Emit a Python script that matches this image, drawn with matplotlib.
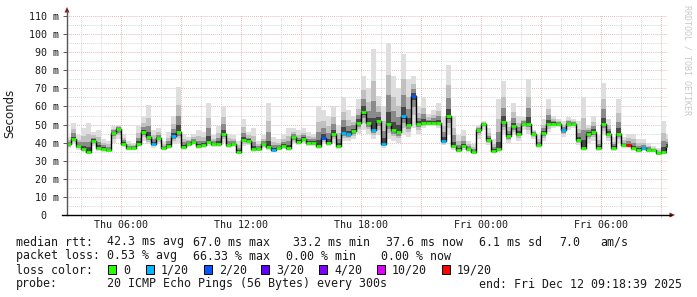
import pandas as pd
import matplotlib
matplotlib.use("Agg")
import matplotlib.pyplot as plt
import matplotlib.dates as mdates
from matplotlib.patches import Rectangle, Polygon
from matplotlib.lines import Line2D

W, H = 697, 297

# median rtt per 15 min step (ms)
median_ms = [39, 42, 38, 36.5, 35, 41, 37, 36.5, 36, 45.5,
             47.5, 39.5, 37, 37, 39.5, 46, 43, 39.5, 42.5, 37,
             38, 43.5, 46, 37.5, 39.5, 40.5, 38, 38.5, 40.5, 39,
             39.5, 45, 38.5, 39, 35, 41.5, 41, 36.5, 36.5, 39,
             37.5, 36, 37, 38, 37, 43, 40.5, 42, 40, 40,
             38, 42.5, 40, 45, 38, 45.5, 44.5, 46.5, 51, 57,
             51, 47, 52, 39.5, 50.5, 47, 46, 54.5, 50, 66,
             50.5, 51, 51, 51, 51, 41, 54.5, 38, 36, 38,
             36.5, 35, 47, 50.5, 41.5, 35.5, 36.5, 51.5, 43.5, 49,
             45, 50.5, 50.5, 45, 38.5, 45.5, 50.5, 50.5, 50.5, 47,
             50.5, 50.5, 41.5, 37, 45, 46, 37, 50.5, 45, 37,
             45, 38.5, 38.5, 37, 36, 37, 36, 36, 34, 35,
             38]

# top of the smoke (slowest ping) per step
smoke_hi_ms = [43, 51, 44, 48, 51, 46, 47, 42, 41, 49,
               50, 45, 41, 40, 49, 54, 61, 47, 48, 41,
               46, 55, 71, 45, 43, 45, 47, 46, 62, 44,
               49, 60, 45, 44, 41, 53, 46, 48, 41, 44,
               62, 43, 42, 45, 48, 48, 47, 48, 46, 45,
               60, 58, 55, 60, 50, 65, 58, 55, 64, 77,
               70, 92, 66, 60, 95, 77, 70, 89, 75, 77,
               60, 65, 56, 58, 62, 55, 83, 55, 44, 47,
               41, 39, 50, 52, 48, 42, 64, 74, 52, 62,
               55, 54, 75, 47, 44, 53, 64, 55, 53, 52,
               54, 53, 52, 65, 50, 55, 44, 73, 53, 43,
               64, 43, 45, 45, 42, 42, 40, 38, 37, 52,
               45]

# bottom of the smoke (fastest ping) per step
smoke_lo_ms = [37, 39, 36, 35, 34, 38, 35.5, 35, 35, 40,
               42, 37.5, 36, 36, 37.5, 41, 39, 37, 39, 36,
               36.5, 39, 40, 36, 37.5, 38.5, 36.5, 37, 38, 37.5,
               37.5, 40, 37, 37.5, 34, 38, 38.5, 35, 35.5, 37,
               36, 35, 36, 36.5, 35.5, 39, 38.5, 39.5, 38, 38,
               36.5, 39, 38, 40, 36.5, 41, 41, 42, 45, 47,
               45, 42, 44, 37, 42, 41, 40, 44, 43, 48,
               45, 48, 49, 49, 48, 38.5, 44, 36, 34.5, 36,
               35, 34, 42, 47, 38.5, 34.5, 35, 44, 40, 44,
               41, 47, 45, 42, 37, 41, 46, 48, 48.5, 43,
               47, 48, 38.5, 35.5, 40, 41, 35.5, 44, 41, 35.5,
               40, 37, 37, 35.5, 34.5, 35.5, 35, 35, 33, 34,
               36]

# steps with lost pings (step index -> pings lost out of 20)
lost_pings = {17: 1, 21: 1, 41: 1, 51: 2, 55: 1, 56: 1, 61: 1, 63: 1,
              67: 1, 69: 2, 75: 1, 99: 1, 112: 19, 115: 1}

loss_levels = [0, 1, 2, 3, 4, 10, 19]
loss_labels = ["0", "1/20", "2/20", "3/20", "4/20", "10/20", "19/20"]
loss_colors = ["#26ff00", "#00b8ff", "#0059ff", "#5e00ff", "#7e00ff", "#dd00ff", "#ff0000"]

y_ticks = [0, 10, 20, 30, 40, 50, 60, 70, 80, 90, 100, 110]
y_labels = ["0  "] + [f"{v} m" for v in y_ticks[1:]]

stats_rows = [
    [(16, "median rtt:"), (107, "42.3 ms avg"), (193, "67.0 ms max"), (293, "33.2 ms min"),
     (386, "37.6 ms now"), (479, "6.1 ms sd"), (559, "7.0"), (600, "am/s")],
    [(16, "packet loss:"), (107, "0.53 % avg"), (193, "66.33 % max"), (286, "0.00 % min"),
     (381, "0.00 % now")],
]
loss_box_x = [108, 146, 204, 261, 319, 377, 442]
probe_text = "20 ICMP Echo Pings (56 Bytes) every 300s"
end_text = "end: Fri Dec 12 09:18:39 2025"

start = "2025-12-11 03:17"
t_start = pd.Timestamp("2025-12-11 03:18:39")
t_end = pd.Timestamp("2025-12-12 09:18:39")

MONO = "DejaVu Sans Mono"
TXT = "#1a1a1a"


def fx(x):
    return x / W


def fy(y):
    return 1 - y / H


def loss_color(n):
    c = loss_colors[0]
    for lvl, col in zip(loss_levels, loss_colors):
        if n >= lvl:
            c = col
    return c


n = len(median_ms)
edges = pd.date_range(start, periods=n + 1, freq="15min")
med = median_ms + [median_ms[-1]]
hi = smoke_hi_ms + [smoke_hi_ms[-1]]
lo = smoke_lo_ms + [smoke_lo_ms[-1]]

fig = plt.figure(figsize=(W / 100, H / 100), dpi=100)
fig.patch.set_facecolor("white")
ax = fig.add_axes([fx(67), 1 - 215 / H, 600 / W, 200 / H])
ax.set_xlim(t_start, t_end)
ax.set_ylim(0, 200 / 1.809)
for s in ax.spines.values():
    s.set_visible(False)

# grid
for v in range(5, 111, 5):
    major = v % 10 == 0
    ax.axhline(v, color="#e6a8a8" if major else "#cfcfcf", lw=0.7,
               ls=(0, (0.8, 1.2)), zorder=0)
for h in pd.date_range("2025-12-11 04:00", "2025-12-12 09:00", freq="h"):
    major = h.hour % 3 == 0
    ax.axvline(h, color="#e6a8a8" if major else "#cfcfcf", lw=0.7,
               ls=(0, (0.8, 1.2)), zorder=0)

# smoke
for frac, col in zip([1.0, 0.6, 0.35, 0.15], ["#dedede", "#c0c0c0", "#8a8a8a", "#474747"]):
    lo_b = [m - frac * (m - l) for m, l in zip(med, lo)]
    hi_b = [m + frac * (h - m) for m, h in zip(med, hi)]
    ax.fill_between(edges, lo_b, hi_b, step="post", color=col, lw=0, zorder=1)

# median line
ax.step(edges, med, where="post", color="black", lw=1.0, zorder=2)
cols = [loss_color(lost_pings.get(i, 0)) for i in range(n)]
ax.hlines(median_ms, edges[:-1], edges[1:], colors=cols, lw=2.0, zorder=3)

# ticks
ax.set_yticks(y_ticks)
ax.set_yticklabels(y_labels, family=MONO, fontsize=7.2, color=TXT)
ax.xaxis.set_major_locator(mdates.HourLocator(byhour=[0, 6, 12, 18]))
ax.xaxis.set_major_formatter(mdates.DateFormatter("%a %H:%M"))
ax.xaxis.set_minor_locator(mdates.HourLocator())
for lab in ax.get_xticklabels():
    lab.set_family(MONO)
ax.tick_params(axis="x", which="major", labelsize=7.2, labelcolor=TXT, length=2,
               width=0.7, color="#e6a8a8", pad=1.5)
ax.tick_params(axis="x", which="minor", length=2, width=0.7, color="#cfcfcf")
ax.tick_params(axis="y", length=3, width=0.7, color="#555555", pad=3)

fig.text(fx(10), fy(113), "Seconds", rotation=90, family="DejaVu Sans", fontsize=8.5,
         color=TXT, ha="center", va="center")

# axis lines and arrows
fig.add_artist(Line2D([fx(67), fx(67)], [fy(215), fy(11)], color="#555555", lw=1))
fig.add_artist(Line2D([fx(62), fx(671)], [fy(215), fy(215)], color="black", lw=1))
fig.add_artist(Polygon([(fx(67), fy(7)), (fx(64.5), fy(12.5)), (fx(69.5), fy(12.5))],
                       closed=True, color="#8b1a1a", lw=0))
fig.add_artist(Polygon([(fx(675), fy(215)), (fx(669.5), fy(212.5)), (fx(669.5), fy(217.5))],
                       closed=True, color="#8b1a1a", lw=0))

# watermark
fig.text(fx(687.5), fy(60), "RRDTOOL / TOBI OETIKER", rotation=270, family=MONO,
         fontsize=6, color="#c8c8c8", ha="center", va="center")

# legend
baselines = [245.5, 259.5, 273.5, 287.5]
for row, base in zip(stats_rows, baselines):
    for x, s in row:
        fig.text(fx(x), fy(base), s, family=MONO, fontsize=8.4, color=TXT, va="baseline")

fig.text(fx(16), fy(baselines[2]), "loss color:", family=MONO, fontsize=8.4, color=TXT,
         va="baseline")
for x, lab, col in zip(loss_box_x, loss_labels, loss_colors):
    fig.add_artist(Rectangle((fx(x), fy(274)), 8 / W, 9 / H, facecolor=col,
                             edgecolor="black", lw=0.7))
    fig.text(fx(x + 15), fy(baselines[2]), lab, family=MONO, fontsize=8.4, color=TXT,
             va="baseline")

fig.text(fx(16), fy(baselines[3]), "probe:", family=MONO, fontsize=8.4, color=TXT, va="baseline")
fig.text(fx(107), fy(baselines[3]), probe_text, family=MONO, fontsize=8.4, color=TXT,
         va="baseline")
fig.text(fx(479), fy(baselines[3]), end_text, family=MONO, fontsize=8.4, color=TXT,
         va="baseline")

fig.savefig("out.png", dpi=100)
